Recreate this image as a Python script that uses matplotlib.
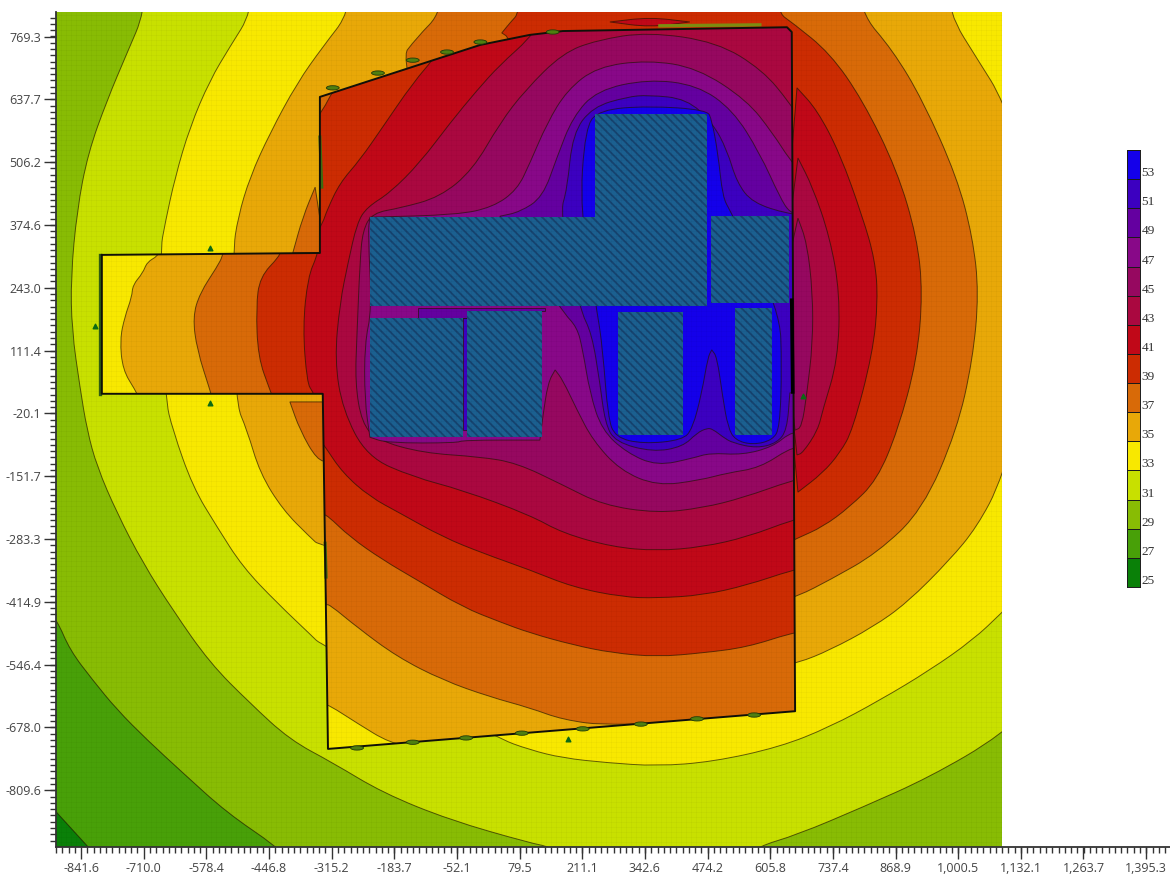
import numpy as np
import matplotlib
matplotlib.use('Agg')
import matplotlib.pyplot as plt
from matplotlib.path import Path
from matplotlib.patches import PathPatch, Rectangle, Ellipse

# contour outlines, in the chart's own x/y units
lv27_out = [(-907, -840), (-894, -855), (-827, -928), (-802, -956), (-907, -956)]
lv29_out = [(-928, -411), (-892, -453), (-865, -516), (-817, -579), (-766, -641), (-703, -704), (-628, -773),
            (-535, -857), (-430, -928), (-382, -977), (-928, -977)]
lv31_out = [(-708, 930), (-708, 821), (-745, 735), (-787, 636), (-827, 525), (-850, 406), (-863, 266), (-861, 155),
            (-844, 35), (-829, -55), (-808, -132), (-766, -229), (-712, -333), (-649, -432), (-571, -543), (-487, -627),
            (-403, -704), (-313, -752), (-208, -815), (-67, -872), (101, -920), (143, -928), (185, -956), (553, -956),
            (578, -928), (662, -903), (800, -845), (941, -782), (1092, -694), (1214, -579), (1214, 930)]
lv33_out = [(-483, 930), (-483, 821), (-529, 748), (-571, 678), (-613, 580), (-644, 475), (-665, 379), (-676, 318),
            (-665, 12), (-649, -55), (-607, -174), (-556, -258), (-502, -342), (-430, -417), (-355, -488), (-340, -503),
            (32, -700), (101, -725), (170, -742), (263, -752), (368, -759), (485, -750), (626, -719), (731, -677),
            (836, -621), (941, -558), (1031, -495), (1092, -438), (1214, -317), (1214, 930)]
lv35_out = [(-277, 930), (-277, 821), (-334, 748), (-388, 672), (-445, 567), (-487, 475), (-512, 391), (-523, 318),
            (-518, 4), (-493, -55), (-466, -145), (-418, -222), (-361, -279), (-338, -300), (620, -548), (664, -543),
            (731, -516), (821, -468), (893, -417), (983, -327), (1040, -258), (1092, -160), (1172, 113), (1172, 427),
            (1092, 641), (1046, 714), (979, 821), (979, 930)]
lv37_out = [(-84, 930), (-84, 821), (-136, 768), (-176, 716), (38, 8), (620, -415), (664, -403), (731, -369), (830, -313),
            (926, -222), (998, -55), (1031, 92), (1044, 232), (1031, 349), (998, 475), (926, 636), (863, 741), (794, 821),
            (794, 930)]
lv37_left = [(-350, 454), (-376, 391), (-397, 316), (-329, 316)]
lv37_low = [(-403, 4), (-382, -55), (-346, -118), (-319, -122), (-319, 4)]
lv39_out = [(80, 930), (80, 821), (59, 798), (42, 777), (59, 766), (625, -300), (664, -281), (716, -258), (773, -216),
            (830, -160), (874, -55), (914, 92), (926, 232), (914, 349), (872, 490), (800, 636), (731, 735), (653, 798),
            (620, 821), (620, 930)]
lv41_out = [(662, 662), (704, 616), (752, 525), (800, 391), (826, 301), (832, 217), (821, 106), (779, -55), (752, -103),
            (716, -145), (664, -185), (626, 217)]
lv41_top = [(269, 800), (353, 810), (437, 800), (353, 789)]
lv43_out = [(664, 515), (695, 454), (731, 349), (752, 232), (748, 92), (716, -13), (706, -55), (674, -103), (662, -107),
            (626, 217)]
lv45_out = [(664, 389), (683, 337), (695, 232), (695, 127), (683, 23), (672, -49), (658, -55), (626, 217)]

walls = [(-798, 312), (-340, 316), (-340, 643), (-3, 752), (101, 773), (170, 781), (641, 789), (651, 779), (658, -644),
         (-323, -723), (-334, 21), (-798, 21)]

lv35_in = [(-680, 322), (-680, 310), (-703, 297), (-712, 274), (-733, 249), (-735, 224), (-750, 182), (-760, 134),
           (-754, 71), (-728, 29), (-718, 8), (-344, 8), (-330, -631), (-321, -631), (-262, -669), (-193, -711),
           (-130, -721), (668, -662), (668, 804), (-350, 720), (-350, 322)]
lv37_in = [(-544, 322), (-544, 310), (-556, 287), (-592, 232), (-607, 182), (-598, 113), (-571, 29), (-565, 8), (-344, 8),
           (-327, -421), (-319, -421), (-262, -468), (-178, -530), (-82, -579), (17, -614), (101, -637), (170, -662),
           (269, -675), (668, -658), (668, 804), (-350, 720), (-350, 322)]
lv39_in = [(-424, 322), (-424, 310), (-466, 266), (-474, 203), (-470, 98), (-445, 29), (-437, 8), (-344, 8), (-334, -233),
           (-325, -233), (-277, -279), (-208, -327), (-136, -369), (-40, -426), (38, -457), (101, -480), (191, -505),
           (275, -522), (368, -530), (464, -522), (557, -510), (651, -480), (668, -480), (668, 804), (-100, 804), (-250, 730),
           (-308, 665), (-336, 611), (-350, 599), (-350, 322)]
lv41_in = [(-346, 322), (-346, 310), (-365, 266), (-376, 161), (-367, 44), (-355, 25), (-348, 8), (-340, -76), (-329, -90),
           (-292, -145), (-235, -195), (-172, -229), (-82, -279), (2, -313), (101, -348), (191, -384), (296, -405),
           (368, -407), (464, -401), (557, -380), (653, -348), (668, -348), (668, 804), (-88, 762), (-94, 731), (-145, 672),
           (-208, 580), (-256, 511), (-298, 463), (-325, 406), (-334, 379), (-350, 354), (-350, 322)]
lv43_in = [(-10, 657), (38, 710), (101, 766), (122, 804), (668, 804), (668, -243), (653, -243), (557, -279), (464, -300),
           (368, -308), (275, -300), (170, -271), (101, -233), (-40, -181), (-145, -153), (-241, -111), (-292, -13),
           (-309, 92), (-298, 211), (-281, 295), (-262, 379), (-241, 412), (-193, 442), (-130, 505), (-67, 588)]
lv45_in = [(91, 657), (170, 735), (242, 762), (349, 779), (494, 758), (590, 699), (647, 630), (668, 595), (668, -160),
           (653, -160), (548, -197), (464, -218), (368, -229), (254, -212), (170, -170), (74, -124), (-4, -111), (-124, -103),
           (-220, -76), (-252, -40), (-266, 44), (-262, 148), (-256, 295), (-250, 364), (-229, 400), (-172, 410), (-88, 433),
           (-19, 490), (38, 588)]
lv47_in = [(179, 657), (242, 706), (349, 720), (452, 704), (557, 636), (611, 567), (647, 511), (668, 490), (668, -93),
           (647, -93), (584, -134), (515, -145), (458, -160), (368, -172), (290, -139), (233, -76), (200, -13), (170, 50),
           (154, 71), (139, 44), (128, -28), (122, -76), (-40, -76), (-52, -82), (-199, -82), (-235, -70), (-246, 8),
           (-246, 127), (-231, 197), (-239, 358), (-235, 391), (-52, 396), (23, 412), (74, 448), (101, 504), (137, 588)]
lv49_in = [(242, 657), (349, 680), (452, 668), (527, 616), (584, 525), (626, 433), (647, 400), (668, 400), (668, -61),
           (647, -61), (611, -90), (548, -107), (479, -103), (443, -114), (368, -130), (305, -103), (252, -55), (227, 23),
           (212, 113), (200, 161), (170, 192), (38, 393), (80, 402), (128, 433), (158, 517), (191, 601)]
lv49_gap = [(-134, 201), (133, 201), (133, 195), (-25, 195), (-25, 180), (-134, 180)]
lv51_in = [(305, 643), (349, 647), (431, 639), (485, 588), (515, 532), (536, 463), (569, 421), (643, 398), (668, 398),
           (668, 23), (647, 23), (641, -55), (620, -82), (578, -93), (527, -82), (507, -70), (485, -53), (473, -51), (452, -61),
           (422, -90), (359, -101), (280, -80), (259, -40), (248, 44), (231, 148), (206, 197), (164, 400), (179, 448),
           (191, 567), (233, 622)]
lv51_gap = [(-40, 180), (-29, 180), (-29, -55), (-40, -55)]
lv53_in = [(248, 616), (349, 624), (473, 616), (483, 595), (496, 525), (506, 433), (521, 406), (626, 197), (630, 77),
           (626, -49), (611, -76), (569, -86), (532, -76), (517, -49), (506, 14), (494, 98), (483, 113), (475, 98), (462, 23),
           (443, -51), (422, -76), (338, -84), (280, -70), (265, -28), (254, 113), (242, 197), (206, 400), (217, 580)]

# rooms (the hatched blocks)
room_x0 = [-235, 238, 481, -235, -31, 286, 532]
room_x1 = [238, 473, 645, -40, 126, 422, 609]
room_y0 = [205, 205, 211, -70, -70, -65, -65]
room_y1 = [391, 607, 393, 180, 194, 192, 201]

# measurement points and wall joints
point_x = [-571, -571, -812, 181, 674]
point_y = [326, 2, 163, -702, 16]
joint_x = [-262, -145, -33, 84, 212, 334, 452, 572, 149, -73, -3, -313, -218, -145]
joint_y = [-721, -709, -700, -690, -681, -671, -660, -652, 779, 737, 758, 662, 693, 720]

# scale
legend_levels = [25, 27, 29, 31, 33, 35, 37, 39, 41, 43, 45, 47, 49, 51, 53]
legend_colors = ['#0a8008', '#48a008', '#88bc04', '#c8e000', '#f8e800', '#e8a808', '#d86a08', '#cc2c02', '#c00818',
                 '#aa0840', '#960860', '#880888', '#6400a0', '#3c00c0', '#1400ea']

x_ticks = [-841.6, -710.0, -578.4, -446.8, -315.2, -183.7, -52.1, 79.5, 211.1, 342.6, 474.2, 605.8, 737.4, 868.9, 1000.5,
           1132.1, 1263.7, 1395.3]
x_labels = ['-841.6', '-710.0', '-578.4', '-446.8', '-315.2', '-183.7', '-52.1', '79.5', '211.1', '342.6', '474.2', '605.8',
            '737.4', '868.9', '1,000.5', '1,132.1', '1,263.7', '1,395.3']
y_ticks = [769.3, 637.7, 506.2, 374.6, 243.0, 111.4, -20.1, -151.7, -283.3, -414.9, -546.4, -678.0, -809.6]
y_labels = ['769.3', '637.7', '506.2', '374.6', '243.0', '111.4', '-20.1', '-151.7', '-283.3', '-414.9', '-546.4', '-678.0',
            '-809.6']

W, H = 1170, 876
XMIN, XMAX, YMIN, YMAX, XEDGE = -894, 1445.4, -928.5, 820.9, 1092
EDGE = (0.12, 0.08, 0.0, 0.65)


def outline(points):
    '''smooth closed path through the points, keeps sharp turns sharp'''
    pts = np.array(points, dtype=float)
    n = len(pts)
    verts = [(pts[-1] + pts[0]) / 2]
    codes = [Path.MOVETO]
    for i in range(n):
        a, p, b = pts[i - 1], pts[i], pts[(i + 1) % n]
        u, v = p - a, b - p
        turn = np.dot(u, v) / (np.linalg.norm(u) * np.linalg.norm(v))
        code = Path.LINETO if turn < 0.45 else Path.CURVE3
        verts += [p, (p + b) / 2]
        codes += [code, code]
    verts.append(verts[0])
    codes.append(Path.CLOSEPOLY)
    return Path(verts, codes)


def fill_band(ax, points, band, clip, edge=EDGE):
    patch = PathPatch(outline(points), facecolor=legend_colors[band], edgecolor=edge, lw=0.7)
    ax.add_patch(patch)
    patch.set_clip_path(clip)
    return patch


fig = plt.figure(figsize=(W / 100, H / 100), dpi=100, facecolor='white')
plt.rcParams['hatch.linewidth'] = 1.3
ax = fig.add_axes([56 / W, (H - 847) / H, (W - 56) / W, 835 / H])
ax.set_xlim(XMIN, XMAX)
ax.set_ylim(YMIN, YMAX)

plot_area = Rectangle((XMIN, YMIN), XEDGE - XMIN, YMAX - YMIN, transform=ax.transData)

# outside the building
ax.add_patch(Rectangle((XMIN, YMIN), XEDGE - XMIN, YMAX - YMIN, facecolor=legend_colors[2], edgecolor='none'))
fill_band(ax, lv29_out, 1, plot_area)
fill_band(ax, lv27_out, 0, plot_area)
outside = [(lv31_out, 3), (lv33_out, 4), (lv35_out, 5), (lv37_out, 6), (lv37_left, 6), (lv37_low, 6), (lv39_out, 7),
           (lv41_out, 8), (lv41_top, 8), (lv43_out, 9), (lv45_out, 10)]
for points, band in outside:
    fill_band(ax, points, band, plot_area)

# inside the building
inner = PathPatch(Path(walls + [walls[0]]), facecolor=legend_colors[4], edgecolor='none', transform=ax.transData)
ax.add_patch(inner)
inside = [(lv35_in, 5), (lv37_in, 6), (lv39_in, 7), (lv41_in, 8), (lv43_in, 9), (lv45_in, 10), (lv47_in, 11), (lv49_in, 12),
          (lv49_gap, 12), (lv51_in, 13), (lv51_gap, 13), (lv53_in, 14)]
for points, band in inside:
    fill_band(ax, points, band, inner)

for x0, x1, y0, y1 in zip(room_x0, room_x1, room_y0, room_y1):
    ax.add_patch(Rectangle((x0, y0), x1 - x0, y1 - y0, facecolor='#1b6090', edgecolor='#16436f', hatch='\\\\\\\\',
                           lw=0))

# faint calculation grid
grid_x = np.arange(XMIN, XEDGE, 10.5)
grid_y = np.arange(YMIN, YMAX, 10.5)
ax.vlines(grid_x, YMIN, YMAX, colors='k', alpha=0.035, lw=0.5, zorder=2)
ax.hlines(grid_y, XMIN, XEDGE, colors='k', alpha=0.035, lw=0.5, zorder=2)

# walls
wall_x = [p[0] for p in walls] + [walls[0][0]]
wall_y = [p[1] for p in walls] + [walls[0][1]]
ax.plot([-802, -802], [312, 21], color='#2f5c10', lw=2.4, zorder=3)
ax.plot([-340, -336], [559, 454], color='#3c6a10', lw=2.2, zorder=3)
ax.plot([-329, -327], [-292, -363], color='#3c6a10', lw=2.2, zorder=3)
ax.plot([374, 584], [792, 794], color='#7d8c10', lw=2.4, zorder=3)
ax.plot(wall_x, wall_y, color='#101008', lw=1.4, zorder=4)
ax.plot([651, 653], [217, 25], color='black', lw=2.6, zorder=4)
for jx, jy in zip(joint_x, joint_y):
    ax.add_patch(Ellipse((jx, jy), 27, 9, facecolor='#4f7f10', edgecolor='#223a08', lw=0.6, zorder=5))
ax.scatter(point_x, point_y, marker='^', s=11, color='#0c6a14', zorder=6)

# axes
for side in ['top', 'right']:
    ax.spines[side].set_visible(False)
for side in ['left', 'bottom']:
    ax.spines[side].set_color('#333333')
    ax.spines[side].set_linewidth(1.3)
ax.set_xticks(x_ticks)
ax.set_xticklabels(x_labels)
ax.set_yticks(y_ticks)
ax.set_yticklabels(y_labels)
ax.set_xticks(np.arange(x_ticks[0] - 52.64, XMAX, 13.16), minor=True)
ax.set_yticks(np.arange(y_ticks[-1] - 105.3, YMAX, 13.16), minor=True)
ax.tick_params(which='major', length=8.5, width=1.0, color='#333333', labelsize=9, labelcolor='#444444', pad=2)
ax.tick_params(which='minor', length=4.5, width=1.0, color='#333333')
for label in ax.get_xticklabels() + ax.get_yticklabels():
    label.set_family('Open Sans')

# colour scale
cax = fig.add_axes([1127 / W, (H - 587) / H, 13 / W, 437 / H])
cax.bar([0] * len(legend_levels), [2] * len(legend_levels), width=1, bottom=legend_levels, color=legend_colors,
        edgecolor='#1a1a1a', lw=0.7)
cax.set_xlim(-0.5, 0.5)
cax.set_ylim(25, 55)
cax.set_xticks([])
cax.yaxis.tick_right()
cax.set_yticks(legend_levels)
cax.tick_params(axis='y', length=0, pad=1.2, labelsize=9.6, labelcolor='#333333')
for label in cax.get_yticklabels():
    label.set_family('Liberation Serif')
    label.set_va('bottom')
for spine in cax.spines.values():
    spine.set_linewidth(0.7)
    spine.set_color('#1a1a1a')

fig.savefig('out.png', dpi=100)
